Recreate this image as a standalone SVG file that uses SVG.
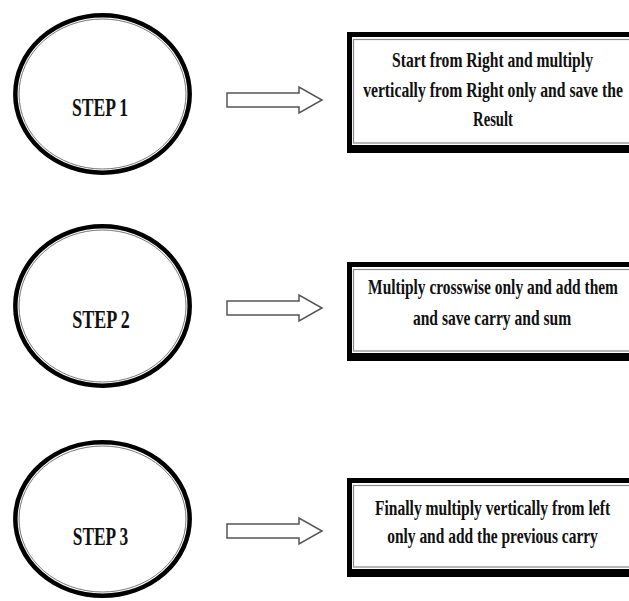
<svg xmlns="http://www.w3.org/2000/svg" width="629" height="601" viewBox="0 0 629 601">
<style>
.outer{fill:none;stroke:#000;stroke-width:4.5}
.inner{fill:none;stroke:#777;stroke-width:1}
.lbl{font-family:"Liberation Serif","Times New Roman",serif;font-weight:bold;fill:#111;text-anchor:middle}
.step{font-size:25px}
.txt{font-size:22px}
.arrow{fill:#fff;stroke:#555;stroke-width:1.5;stroke-linejoin:miter}
.bx{fill:#000}
.bw{fill:#fff}
.bg{fill:none;stroke:#888;stroke-width:1.2}
</style>
<rect width="629" height="601" fill="#fff"/>
<g id="step1">
<ellipse class="outer" cx="102.5" cy="94" rx="87.2" ry="78.7"/>
<ellipse class="inner" cx="102.5" cy="94" rx="83.5" ry="75"/>
<text class="lbl step" transform="translate(100,116) scale(0.72,1)" textLength="78" lengthAdjust="spacingAndGlyphs">STEP 1</text>
</g>
<g id="step2">
<ellipse class="outer" cx="102.5" cy="306" rx="87.2" ry="79.7"/>
<ellipse class="inner" cx="102.5" cy="306" rx="83.5" ry="76"/>
<text class="lbl step" transform="translate(101,328) scale(0.72,1)" textLength="80" lengthAdjust="spacingAndGlyphs">STEP 2</text>
</g>
<g id="step3">
<ellipse class="outer" cx="102.5" cy="519" rx="87.2" ry="76.7"/>
<ellipse class="inner" cx="102.5" cy="519" rx="83.5" ry="73"/>
<text class="lbl step" transform="translate(100.5,545) scale(0.72,1)" textLength="77" lengthAdjust="spacingAndGlyphs">STEP 3</text>
</g>
<g id="box1">
<rect class="bx" x="347" y="32" width="282" height="121"/>
<rect class="bw" x="352" y="37" width="277" height="108"/>
<rect class="bg" x="353.5" y="39.5" width="280" height="103.5"/>
<text class="lbl txt" transform="translate(492.5,67) scale(0.7,1)" textLength="287" lengthAdjust="spacingAndGlyphs">Start from Right and multiply</text>
<text class="lbl txt" transform="translate(493,97) scale(0.7,1)" textLength="371" lengthAdjust="spacingAndGlyphs">vertically from Right only and save the</text>
<text class="lbl txt" transform="translate(493,126) scale(0.7,1)" textLength="57" lengthAdjust="spacingAndGlyphs">Result</text>
</g>
<g id="box2">
<rect class="bx" x="347" y="262" width="282" height="99"/>
<rect class="bw" x="352" y="267" width="277" height="86"/>
<rect class="bg" x="353.5" y="269.5" width="280" height="81.5"/>
<text class="lbl txt" transform="translate(493,294) scale(0.7,1)" textLength="357" lengthAdjust="spacingAndGlyphs">Multiply crosswise only and add them</text>
<text class="lbl txt" transform="translate(492,325) scale(0.7,1)" textLength="226" lengthAdjust="spacingAndGlyphs">and save carry and sum</text>
</g>
<g id="box3">
<rect class="bx" x="347" y="478" width="282" height="99"/>
<rect class="bw" x="352" y="483" width="277" height="86"/>
<rect class="bg" x="353.5" y="485.5" width="280" height="81.5"/>
<text class="lbl txt" transform="translate(492.5,515) scale(0.7,1)" textLength="336" lengthAdjust="spacingAndGlyphs">Finally multiply vertically from left</text>
<text class="lbl txt" transform="translate(492.5,543) scale(0.7,1)" textLength="301" lengthAdjust="spacingAndGlyphs">only and add the previous carry</text>
</g>
<g id="connectors">
<polygon class="arrow" points="227,93 299,93 299,87 322,100 299,113 299,107 227,107"/>
<polygon class="arrow" points="227,301 299,301 299,295 322,308 299,321 299,315 227,315"/>
<polygon class="arrow" points="227,524 299,524 299,518 322,531 299,544 299,538 227,538"/>
</g>
</svg>
